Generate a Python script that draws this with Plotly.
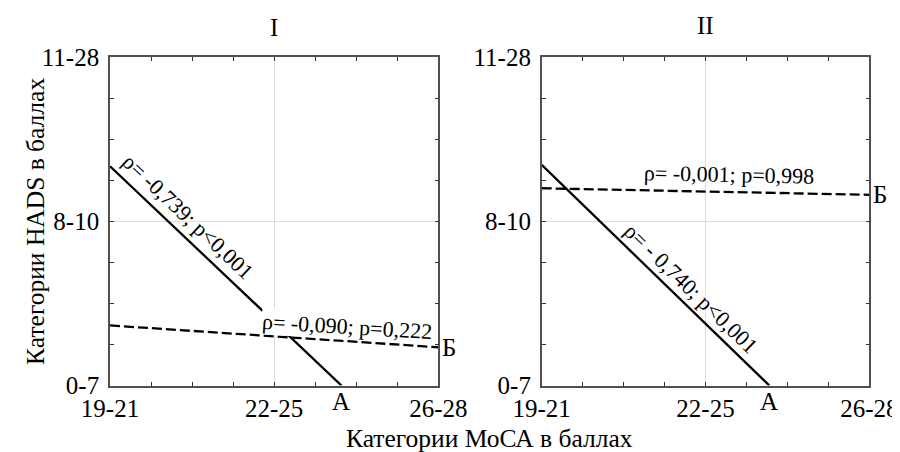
import plotly.graph_objects as go

# Category labels
x_labels = ["19-21", "22-25", "26-28"]
y_labels = ["0-7", "8-10", "11-28"]
panel_titles = ["I", "II"]

# Regression lines (category positions)
# Panel I
solid_I_x = [0.0, 1.41]
solid_I_y = [1.336, 0.0]
dash_I_x = [0.0, 2.0]
dash_I_y = [0.366, 0.233]
# Panel II
solid_II_x = [0.0, 1.39]
solid_II_y = [1.344, 0.0]
dash_II_x = [0.0, 2.0]
dash_II_y = [1.202, 1.162]

# Correlation labels
lab_solid_I = "ρ= -0,739; p<0,001"
lab_dash_I = "ρ= -0,090; p=0,222"
lab_solid_II = "ρ= - 0,740; p<0,001"
lab_dash_II = "ρ= -0,001; p=0,998"
line_names = ["А", "Б"]

FONT = "Liberation Serif, Times New Roman, serif"
W, H, OFF = 900, 452, 8  # page body margin offset


def px_x(px):
    return (px - OFF) / W


def px_y(py):
    return 1 - (py - OFF) / H


fig = go.Figure()


def add_lines(xs, ys, xa, ya, dash):
    fig.add_trace(go.Scatter(x=xs, y=ys, mode="lines", xaxis=xa, yaxis=ya,
                             line=dict(color="black", width=2.3, dash=dash),
                             showlegend=False, hoverinfo="skip"))


add_lines(solid_I_x, solid_I_y, "x", "y", "solid")
add_lines(dash_I_x, dash_I_y, "x", "y", "10px,4px")
add_lines(solid_II_x, solid_II_y, "x2", "y2", "solid")
add_lines(dash_II_x, dash_II_y, "x2", "y2", "10px,4px")

axis_common = dict(
    range=[0, 2], tickvals=[0, 1, 2], showgrid=True, gridcolor="#dcdcdc", gridwidth=1,
    showline=True, linecolor="#505050", linewidth=1.6, mirror="ticks",
    ticks="inside", ticklen=4, tickcolor="#333", zeroline=False, automargin=False,
    tickfont=dict(family=FONT, size=25, color="black"),
    minor=dict(dtick=0.25, ticks="inside", ticklen=4, tickcolor="#333", showgrid=False),
    fixedrange=True,
)

dom_y = [px_y(385.5), px_y(57.3)]
fig.update_layout(
    width=W, height=H,
    margin=dict(l=0, r=0, t=0, b=0),
    paper_bgcolor="white", plot_bgcolor="white",
    xaxis=dict(axis_common, domain=[px_x(110), px_x(438.3)], ticktext=x_labels, anchor="y"),
    yaxis=dict(axis_common, domain=dom_y, ticktext=y_labels, anchor="x", ticklabelstandoff=4),
    xaxis2=dict(axis_common, domain=[px_x(541.7), px_x(869.3)], ticktext=x_labels, anchor="y2"),
    yaxis2=dict(axis_common, domain=dom_y, ticktext=y_labels, anchor="x2", ticklabelstandoff=4),
    font=dict(family=FONT, color="black"),
)

ann = []
# Panel titles
ann.append(dict(text=panel_titles[0], x=0.5, xref="x domain", y=px_y(27), yref="paper",
                yanchor="middle", showarrow=False, font=dict(size=25)))
ann.append(dict(text=panel_titles[1], x=0.5, xref="x2 domain", y=px_y(25), yref="paper",
                yanchor="middle", showarrow=False, font=dict(size=25)))
# Axis titles
ann.append(dict(text="Категории МоСА в баллах", x=px_x(489), xref="paper", y=px_y(438),
                yref="paper", yanchor="middle", showarrow=False, font=dict(size=25.5)))
ann.append(dict(text="Категории HADS в баллах", x=px_x(19), xref="paper", y=0.5, yref="y domain",
                showarrow=False, textangle=-90, font=dict(size=25.5)))

# Correlation labels
ann.append(dict(text=lab_solid_I, x=0.475, y=1.03, xref="x", yref="y", showarrow=False,
                textangle=43.4, font=dict(size=22)))
ann.append(dict(text=lab_dash_I, x=1.444, y=0.36, xref="x", yref="y", showarrow=False,
                textangle=3.5, font=dict(size=22), bgcolor="white", borderpad=0))
ann.append(dict(text=lab_solid_II, x=0.912, y=0.59, xref="x2", yref="y2", showarrow=False,
                textangle=44.1, font=dict(size=22)))
ann.append(dict(text=lab_dash_II, x=1.142, y=1.285, xref="x2", yref="y2", showarrow=False,
                textangle=1.2, font=dict(size=22)))

# Line names
ann.append(dict(text=line_names[0], x=solid_I_x[1], y=0, xref="x", yref="y", showarrow=False,
                yanchor="top", yshift=0, font=dict(size=25)))
ann.append(dict(text=line_names[1], x=2, y=dash_I_y[1], xref="x", yref="y", showarrow=False,
                xanchor="left", xshift=2, font=dict(size=25)))
ann.append(dict(text=line_names[0], x=solid_II_x[1], y=0, xref="x2", yref="y2", showarrow=False,
                yanchor="top", yshift=0, font=dict(size=25)))
ann.append(dict(text=line_names[1], x=2, y=dash_II_y[1], xref="x2", yref="y2", showarrow=False,
                xanchor="left", xshift=2, font=dict(size=25)))

fig.update_layout(annotations=ann)
fig.write_html("out.html")
